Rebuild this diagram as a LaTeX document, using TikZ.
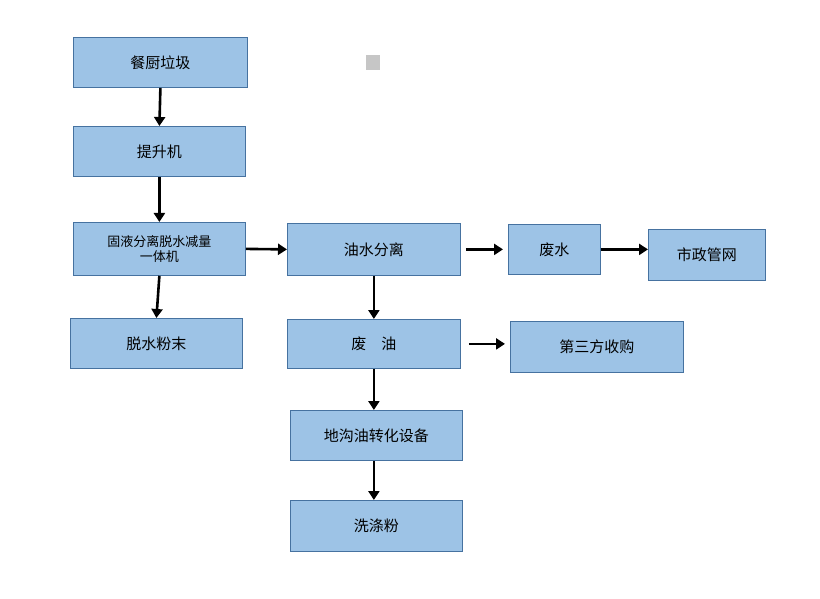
\documentclass[tikz,border=0pt]{standalone}
\usepackage{fontspec}
\newfontfamily\cjk{Noto Sans CJK SC}
\usetikzlibrary{arrows.meta}
\definecolor{boxfill}{RGB}{157,195,230}
\definecolor{boxline}{RGB}{70,114,160}
\begin{document}
\begin{tikzpicture}[x=1pt,y=-1pt,
  box/.style={draw=boxline,fill=boxfill,line width=0.8pt,inner sep=0pt,font=\cjk\fontsize{15}{17}\selectfont},
  arr/.style={line width=2.6pt,-{Triangle[length=9pt,width=11pt]}}]
\useasboundingbox[fill=white] (0,0) rectangle (820,599);
\fill[gray!45] (366,55) rectangle (380,70);
\newcommand{\bx}[6]{\node[box,minimum width=#4-#2,minimum height=#5-#3,anchor=north west] (#1) at (#2,#3) {#6};}
\bx{a}{73}{37}{247}{87}{餐厨垃圾}
\bx{b}{73}{126}{245}{176}{提升机}
\node[box,minimum width=172,minimum height=53,anchor=north west,align=center,font=\cjk\fontsize{13}{15}\selectfont] (c) at (73,222) {固液分离脱水减量\\一体机};
\bx{d}{70}{318}{242}{368}{脱水粉末}
\bx{e}{287}{223}{460}{275}{油水分离}
\bx{f}{508}{224}{600}{274}{废水}
\bx{g}{648}{229}{765}{280}{市政管网}
\bx{h}{287}{319}{460}{368}{废\hspace{1em}油}
\bx{i}{510}{321}{683}{372}{第三方收购}
\bx{j}{290}{410}{462}{460}{地沟油转化设备}
\bx{k}{290}{500}{462}{551}{洗涤粉}
\draw[arr] (a.south) -- (b.north);
\draw[arr] (b.south) -- (c.north);
\draw[arr] (c.south) -- (d.north);
\draw[arr] (c.east) -- (e.west);
\draw[arr] ([xshift=5pt]e.east) -- ([xshift=-5pt]f.west);
\draw[arr] (f.east) -- (g.west|-f.east);
\draw[arr] (e.south) -- (h.north);
\draw[arr] ([xshift=8pt]h.east) -- ([xshift=-5pt]i.west|-h.east);
\draw[arr] (h.south) -- (j.north-|h.south);
\draw[arr] (j.south-|h.south) -- (k.north-|h.south);
\end{tikzpicture}
\end{document}
